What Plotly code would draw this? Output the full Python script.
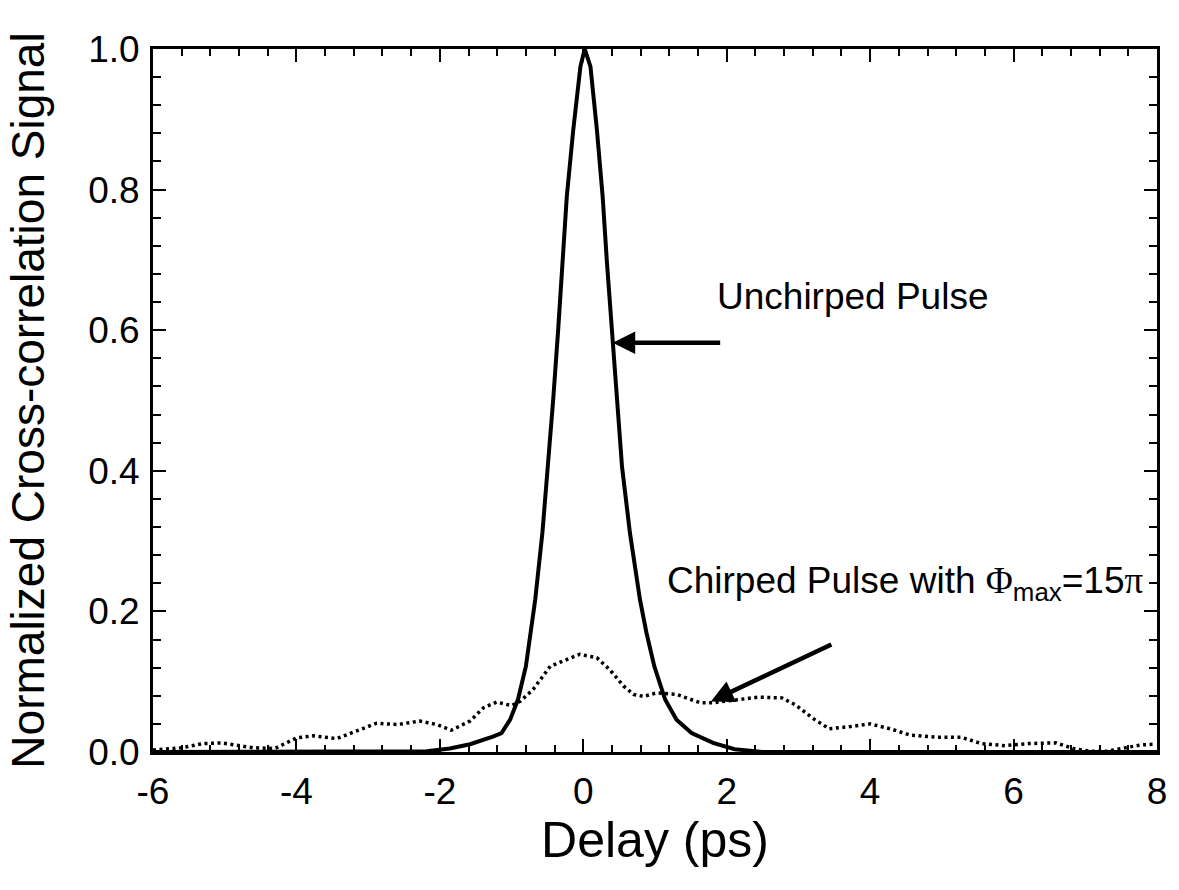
import plotly.graph_objects as go

# ---- data ----
delay_unchirped = [-6.0, -4.0, -2.5, -2.18, -1.86, -1.58, -1.26, -1.14, -1.02, -0.91, -0.80,
                   -0.67, -0.57, -0.49, -0.42, -0.35, -0.29, -0.23, -0.14, -0.04, 0.02,
                   0.10, 0.19, 0.27, 0.33, 0.40, 0.47, 0.54, 0.65, 0.72, 0.79, 0.88, 0.99,
                   1.14, 1.30, 1.51, 1.81, 2.11, 2.5, 4.0, 8.0]
signal_unchirped = [0.0, 0.0, 0.0, 0.001, 0.005, 0.011, 0.022, 0.027, 0.046, 0.075, 0.122,
                    0.217, 0.312, 0.406, 0.501, 0.601, 0.696, 0.790, 0.885, 0.975, 1.0,
                    0.975, 0.885, 0.790, 0.696, 0.601, 0.501, 0.406, 0.312, 0.264, 0.217,
                    0.170, 0.122, 0.075, 0.046, 0.027, 0.013, 0.004, 0.0, 0.0, 0.0]

delay_chirped = [-6.0, -5.6, -5.3, -5.05, -4.85, -4.6, -4.3, -4.0, -3.77, -3.44, -3.16,
                 -2.88, -2.6, -2.28, -2.04, -1.84, -1.58, -1.39, -1.21, -1.0, -0.88,
                 -0.70, -0.46, -0.23, -0.05, 0.19, 0.37, 0.56, 0.70, 0.84, 1.02, 1.30,
                 1.45, 1.63, 1.80, 2.11, 2.44, 2.77, 2.96, 3.20, 3.43, 3.71, 4.0, 4.28,
                 4.56, 4.94, 5.27, 5.55, 5.88, 6.21, 6.59, 6.83, 7.06, 7.30, 7.58, 7.77, 7.96]
signal_chirped = [0.003, 0.006, 0.012, 0.013, 0.010, 0.006, 0.005, 0.020, 0.023, 0.019, 0.030,
                  0.041, 0.039, 0.044, 0.039, 0.031, 0.044, 0.063, 0.071, 0.066, 0.072,
                  0.089, 0.122, 0.132, 0.139, 0.134, 0.117, 0.094, 0.082, 0.079, 0.084, 0.082,
                  0.076, 0.070, 0.070, 0.074, 0.078, 0.077, 0.067, 0.048, 0.033, 0.036, 0.040, 0.033,
                  0.024, 0.021, 0.021, 0.012, 0.009, 0.012, 0.013, 0.005, 0.001, 0.001, 0.007, 0.010, 0.011]

x_tick_vals = [-6, -4, -2, 0, 2, 4, 6, 8]
x_tick_text = ["-6", "-4", "-2", "0", "2", "4", "6", "8"]
y_tick_vals = [0.0, 0.2, 0.4, 0.6, 0.8, 1.0]
y_tick_text = ["0.0", "0.2", "0.4", "0.6", "0.8", "1.0"]

label_unchirped = "Unchirped Pulse"
label_chirped = ("Chirped Pulse with <span style=\"font-family:'Liberation Serif'\">\u03a6</span>"
                 "<sub>max</sub>=15<span style=\"font-family:'Liberation Serif'\">\u03c0</span>")
x_title = "Delay (ps)"
y_title = "Normalized Cross-correlation Signal"

FONT = "Arial, 'Liberation Sans', sans-serif"

fig = go.Figure()
fig.add_trace(go.Scatter(x=delay_chirped, y=signal_chirped, mode="lines",
                         line=dict(color="black", width=3.5, dash="3px,3.5px"),
                         showlegend=False))
fig.add_trace(go.Scatter(x=delay_unchirped, y=signal_unchirped, mode="lines",
                         line=dict(color="black", width=4),
                         showlegend=False))

axis_common = dict(showline=True, linecolor="black", linewidth=3, mirror="ticks",
                   showgrid=False, zeroline=False, ticks="inside", tickcolor="black",
                   tickwidth=2, ticklen=13, tickfont=dict(family=FONT, size=37, color="black"))

fig.update_xaxes(range=[-6, 8], tickvals=x_tick_vals, ticktext=x_tick_text,
                 minor=dict(dtick=0.4, ticks="inside", ticklen=7, tickwidth=2, tickcolor="black"),
                 ticklabelstandoff=5,
                 title=dict(text=x_title, font=dict(family=FONT, size=50, color="black"), standoff=0),
                 **axis_common)
fig.update_yaxes(range=[0, 1.0], tickvals=y_tick_vals, ticktext=y_tick_text,
                 minor=dict(dtick=0.04, ticks="inside", ticklen=8, tickwidth=2, tickcolor="black"),
                 ticklabelstandoff=3,
                 title=dict(text=y_title, font=dict(family=FONT, size=46, color="black"), standoff=30),
                 **axis_common)

annotations = [
    dict(x=1.837, y=0.648, xref="x", yref="y", text=label_unchirped, showarrow=False,
         xanchor="left", yanchor="middle", font=dict(family=FONT, size=37, color="black")),
    dict(x=1.135, y=0.241, xref="x", yref="y", text=label_chirped, showarrow=False,
         xanchor="left", yanchor="middle", font=dict(family=FONT, size=37, color="black")),
    dict(x=0.41, y=0.582, ax=1.93, ay=0.582, xref="x", yref="y", axref="x", ayref="y",
         text="", showarrow=True, arrowhead=2, arrowsize=1, arrowwidth=4.5, arrowcolor="black"),
    dict(x=1.78, y=0.072, ax=3.48, ay=0.154, xref="x", yref="y", axref="x", ayref="y",
         text="", showarrow=True, arrowhead=2, arrowsize=1, arrowwidth=4.5, arrowcolor="black"),
]

fig.update_layout(width=1179, height=890, paper_bgcolor="white", plot_bgcolor="white",
                  margin=dict(l=153, r=22, t=49, b=138, autoexpand=False),
                  annotations=annotations, font=dict(family=FONT, color="black"))

fig.write_html("out.html", config={"displayModeBar": False},
               post_script="document.body.style.margin='0px';document.body.style.overflow='hidden';")
